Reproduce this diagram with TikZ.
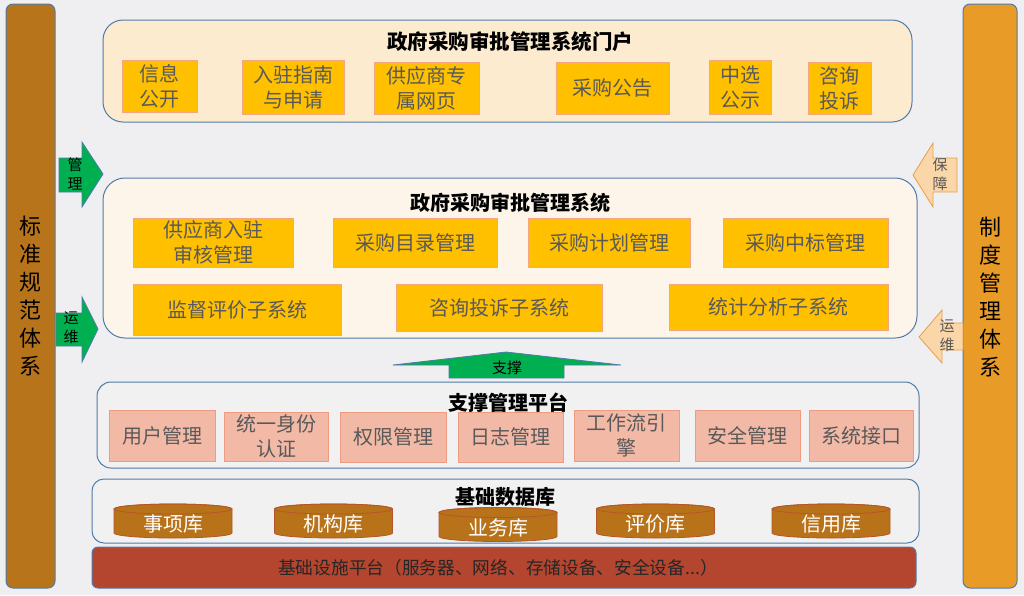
\documentclass[tikz,border=0pt]{standalone}
\usepackage{fontspec}
\setmainfont{Noto Sans CJK SC}

\definecolor{bgcolor}{HTML}{EFEFF1}
\definecolor{lineblue}{HTML}{4F7BAA}
\definecolor{leftbar}{HTML}{B8741A}
\definecolor{rightbar}{HTML}{E99B28}
\definecolor{portalfill}{HTML}{FDEBD0}
\definecolor{sysfill}{HTML}{FEF5EA}
\definecolor{supfill}{HTML}{F1F1F2}
\definecolor{itemfill}{HTML}{FFC000}
\definecolor{itemline}{HTML}{F4A582}
\definecolor{supitem}{HTML}{F2B9A6}
\definecolor{supline}{HTML}{EE9B80}
\definecolor{itemtext}{HTML}{595959}
\definecolor{dbfill}{HTML}{B8731A}
\definecolor{dbline}{HTML}{B5562A}
\definecolor{basefill}{HTML}{B4452F}
\definecolor{arrowgreen}{HTML}{00B050}
\definecolor{arrowpeach}{HTML}{FAD6A8}
\definecolor{peachline}{HTML}{E3A14E}

\begin{document}
\begin{tikzpicture}[x=1pt,y=-1pt,
  bar/.style={draw=lineblue, line width=1pt, rounded corners=7, inner sep=0pt,
    font=\fontsize{22}{28}\selectfont, align=center},
  layer/.style={draw=lineblue, line width=1pt, inner sep=0pt},
  title/.style={font=\fontsize{20}{24}\selectfont\bfseries},
  item/.style={draw=itemline, fill=itemfill, line width=1pt, text=itemtext,
    inner sep=0pt, align=center, font=\fontsize{20}{25}\selectfont},
  supbox/.style={item, draw=supline, fill=supitem},
  dbtext/.style={text=white, font=\fontsize{20}{24}\selectfont},
  garrow/.style={draw=lineblue, fill=arrowgreen, line width=0.8pt},
  parrow/.style={draw=peachline, fill=arrowpeach, line width=0.8pt},
  arrowtext/.style={font=\fontsize{15}{19}\selectfont, align=center}]

\fill[bgcolor] (0,0) rectangle (1024,595);
\useasboundingbox (0,0) rectangle (1024,595);

% side bars
\node[bar, fill=leftbar, minimum width=49, minimum height=584] (std) at (30.5,296) {};
\node[bar, draw=none] (stdtext) at (30,296) {标\\准\\规\\范\\体\\系};
\node[bar, fill=rightbar, minimum width=54, minimum height=584] (sys) at (990,296) {};
\node[bar, draw=none] (systext) at (990,297) {制\\度\\管\\理\\体\\系};

% portal
\node[layer, fill=portalfill, rounded corners=20, minimum width=809, minimum height=102] (portal) at (507.5,71) {};
\node[title, font=\fontsize{20.5}{24}\selectfont\bfseries] (portaltitle) at (510,42) {政府采购审批管理系统门户};
\node[item, minimum width=75, minimum height=52] (xxgk) at (159.5,86) {信息\\公开};
\node[item, minimum width=102, minimum height=54] (rzzn) at (293,87) {入驻指南\\与申请};
\node[item, minimum width=105, minimum height=52] (gysw) at (426.5,88) {供应商专\\属网页};
\node[item, minimum width=113, minimum height=52] (cggg) at (612.5,88) {采购公告};
\node[item, minimum width=62, minimum height=54] (zxgs) at (740,87) {中选\\公示};
\node[item, minimum width=63, minimum height=52] (zxts) at (839.5,88) {咨询\\投诉};

% approval system
\node[layer, fill=sysfill, rounded corners=22, minimum width=814, minimum height=160] (appr) at (510,258) {};
\node[title] (apprtitle) at (510,203) {政府采购审批管理系统};
\node[item, minimum width=160, minimum height=49] (gysrz) at (213,242.5) {供应商入驻\\审核管理};
\node[item, minimum width=164, minimum height=49] (cgml) at (415,242.5) {采购目录管理};
\node[item, minimum width=162, minimum height=49] (cgjh) at (609,242.5) {采购计划管理};
\node[item, minimum width=165, minimum height=49] (cgzb) at (805.5,242.5) {采购中标管理};
\node[item, minimum width=208, minimum height=51] (jdpj) at (237,309.5) {监督评价子系统};
\node[item, minimum width=206, minimum height=47] (zxtsxt) at (499,307.5) {咨询投诉子系统};
\node[item, minimum width=219, minimum height=46] (tjfx) at (778.5,307) {统计分析子系统};

% left arrows
\draw[garrow] (59,158) -- (82,158) -- (82,142) -- (103,174) -- (82,207) -- (82,192) -- (59,192) -- cycle;
\node[arrowtext] (gl) at (75,174) {管\\理};
\draw[garrow] (56,313) -- (82,313) -- (82,297) -- (98,329) -- (82,362) -- (82,346) -- (56,346) -- cycle;
\node[arrowtext] (yw1) at (71,328) {运\\维};

% right arrows
\draw[parrow] (957,158) -- (933,158) -- (933,143) -- (913,175) -- (933,207) -- (933,192) -- (957,192) -- cycle;
\node[arrowtext, text=itemtext] (bz) at (940,174) {保\\障};
\draw[parrow] (963,323) -- (942,323) -- (942,310) -- (919,337) -- (942,363) -- (942,350) -- (963,350) -- cycle;
\node[arrowtext, text=itemtext] (yw2) at (947,336) {运\\维};

% support arrow
\draw[garrow] (393,365) -- (506,352) -- (621,365) -- (564,365) -- (564,378) -- (449,378) -- (449,365) -- cycle;
\node[font=\fontsize{15}{18}\selectfont] (zc) at (507,368) {支撑};

% support platform
\node[layer, fill=supfill, rounded corners=14, minimum width=822, minimum height=86] (sup) at (508,425) {};
\node[title] (suptitle) at (508,403) {支撑管理平台};
\node[supbox, minimum width=106, minimum height=51] (yhgl) at (162,435.5) {用户管理};
\node[supbox, minimum width=104, minimum height=49] (tysf) at (276,436.5) {统一身份\\认证};
\node[supbox, minimum width=106, minimum height=50] (qxgl) at (393,437) {权限管理};
\node[supbox, minimum width=105, minimum height=50] (rzgl) at (510.5,437) {日志管理};
\node[supbox, minimum width=105, minimum height=51] (gzly) at (626.5,435.5) {工作流引\\擎};
\node[supbox, minimum width=105, minimum height=51] (aqgl) at (747.5,435.5) {安全管理};
\node[supbox, minimum width=104, minimum height=51] (xtjk) at (861,435.5) {系统接口};

% database
\node[layer, fill=supfill, rounded corners=12, minimum width=827, minimum height=64] (db) at (505.5,511) {};
\node[title] (dbtitle) at (505,497) {基础数据库};
\foreach \cx/\cy/\nm/\txt in {173/521/sxk/事项库, 333.5/521/jgk/机构库, 498/524.5/ywk/业务库,
    655.5/521/pjk/评价库, 831/521/xyk/信用库}{
  \draw[draw=dbline, fill=dbfill, line width=0.8pt]
    (\cx-59,\cy-12) -- (\cx-59,\cy+12) arc[start angle=180, end angle=0, x radius=59, y radius=5]
    -- (\cx+59,\cy-12) arc[start angle=0, end angle=-180, x radius=59, y radius=5] -- cycle;
  \draw[draw=dbline, line width=0.8pt] (\cx,\cy-12) ellipse[x radius=59, y radius=5];
  \node[dbtext] (\nm) at (\cx,\cy+3) {\txt};
}

% infrastructure
\node[layer, fill=basefill, rounded corners=6, minimum width=824, minimum height=41] (base) at (504,567.5) {};
\node[font=\fontsize{17.7}{20}\selectfont, text=black!85] (basetext) at (498,568) {基础设施平台（服务器、网络、存储设备、安全设备...）};

\end{tikzpicture}
\end{document}
